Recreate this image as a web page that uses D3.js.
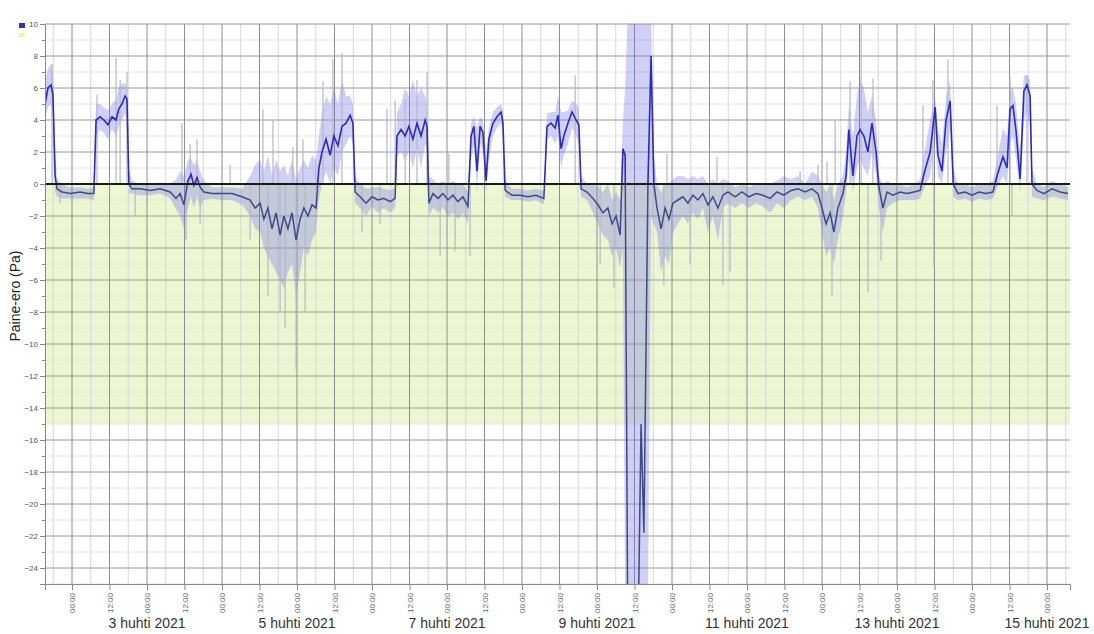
<!DOCTYPE html>
<html>
<head>
<meta charset="utf-8">
<script src="https://cdn.jsdelivr.net/npm/d3@7"></script>
<style>
  body { margin: 0; background: #fff; }
  svg { display: block; font-family: "Liberation Sans", Arial, sans-serif; }
</style>
</head>
<body>
<svg id="chart"></svg>
<script>
// Hours from 2 April 2021 00:00 (UTC) for each reading
const hours = [
  -8.6, -7.7, -6.7, -6.1, -5.4, -4.8, -3.2, -0.6, 2.6, 5.1, 7.0,
  7.7, 9.0, 10.2, 11.5, 12.8, 14.1, 15.0, 16.0, 17.0, 17.6,
  18.2, 19.2, 21.8, 25.0, 28.2, 31.4, 33.3, 34.6, 35.8, 37.1, 38.1, 39.0, 40.0, 41.0, 42.2, 44.8, 48.0, 51.2, 54.4,
  57.0, 58.6, 60.2, 61.4, 62.7, 64.0, 65.3, 66.6, 67.8, 69.1, 70.4, 71.7, 73.0, 74.2, 75.5, 76.8, 78.1,
  79.0, 80.0, 81.3, 82.6, 83.8, 85.1, 86.4, 87.7, 89.0, 89.9,
  90.6, 92.2, 94.1, 96.0, 97.9, 99.8, 101.8, 103.4,
  104.0, 105.3, 106.6, 107.8, 109.1, 110.4, 111.7, 113.0, 113.6,
  114.2, 115.5, 117.1, 118.7, 120.3, 121.9, 123.5, 125.1, 126.7,
  127.7, 128.6, 129.6, 130.6, 131.5, 132.5, 133.4, 134.7, 136.0, 137.3, 137.9,
  138.6, 140.8, 143.4, 145.9, 148.5, 151.0,
  152.0, 153.3, 154.6, 155.5, 156.5, 157.4, 158.7, 160.0, 161.3, 162.2,
  162.9, 164.8, 166.7, 168.3, 169.9, 171.5, 172.8, 174.1, 175.4,
  176.3, 177.0, 177.8, 181.3, 182.1, 183.0, 184.3, 185.3, 186.2,
  187.2, 188.5, 189.8, 191.0, 192.3, 193.9, 195.5, 197.1, 198.7, 200.3, 201.9, 203.5, 205.1, 206.7, 208.3, 209.9,
  212.2, 214.4, 216.6, 218.9, 221.1, 223.4, 225.6, 227.8, 230.1, 232.3, 234.6, 236.8, 238.7, 240.0, 241.3, 242.6, 243.8, 245.1, 246.7,
  247.7, 248.6, 249.9, 251.2, 252.2, 253.4, 254.7, 256.0, 257.3,
  258.2, 259.5, 260.8, 262.7, 265.0, 267.2, 269.4, 271.4,
  272.6, 274.6, 276.2, 277.1, 278.4, 279.7, 281.0,
  282.0, 283.5, 285.8, 288.0, 290.2, 292.5, 294.7,
  296.0, 297.9, 299.2, 300.2, 301.1, 302.1, 303.4, 304.6, 305.6, 306.6,
  307.2, 308.8, 311.0, 313.6, 316.2, 318.7
];

// Mean pressure difference (Pa)
const meanPa = [
  5.0, 6.0, 6.2, 5.6, 0.5, -0.3, -0.5, -0.6, -0.5, -0.6, -0.6,
  4.0, 4.2, 4.0, 3.7, 4.2, 4.0, 4.7, 5.0, 5.5, 5.3,
  0.0, -0.3, -0.3, -0.4, -0.3, -0.5, -0.9, -0.6, -1.3, 0.2, 0.6, -0.1, 0.4, -0.2, -0.5, -0.6, -0.6, -0.6, -0.8,
  -1.0, -1.5, -1.2, -2.2, -1.5, -2.8, -1.8, -3.2, -2.0, -2.8, -1.8, -3.5, -2.2, -1.5, -2.0, -1.3, -1.5,
  1.0, 2.0, 2.8, 1.8, 3.0, 2.4, 3.6, 3.8, 4.3, 3.8,
  -0.5, -0.8, -1.2, -0.8, -1.0, -0.9, -1.1, -0.9,
  3.0, 3.4, 3.0, 3.6, 2.8, 3.8, 3.0, 4.0, 3.6,
  -1.2, -0.6, -0.9, -0.6, -1.0, -0.7, -1.1, -0.8, -1.4,
  3.0, 3.6, 0.8, 3.6, 3.2, 0.2, 2.8, 3.8, 4.2, 4.5, 3.8,
  -0.4, -0.7, -0.7, -0.8, -0.7, -0.9,
  3.6, 3.8, 3.5, 4.3, 2.2, 3.0, 3.8, 4.5, 4.0, 3.7,
  -0.3, -0.5, -0.9, -1.3, -1.8, -1.5, -2.5, -2.0, -3.2,
  2.2, 1.8, -26, -26, -15, -21.8, 0.0, 8.0, 0.0,
  -1.5, -2.8, -1.5, -2.2, -1.2, -1.0, -0.8, -1.2, -0.7, -1.0, -0.6, -1.3, -0.8, -1.5, -0.7, -0.5,
  -0.8, -0.5, -0.8, -0.6, -0.7, -0.9, -0.5, -0.7, -0.4, -0.3, -0.5, -0.3, -0.6, -1.5, -2.5, -1.8, -3.0, -1.5, -0.6,
  0.5, 3.4, 0.5, 3.0, 3.4, 3.0, 2.0, 3.8, 2.0,
  -0.2, -1.5, -0.5, -0.7, -0.5, -0.6, -0.5, -0.4,
  0.6, 2.0, 4.8, 1.8, 0.8, 4.0, 5.2,
  0.0, -0.6, -0.5, -0.7, -0.5, -0.6, -0.5,
  0.5, 1.7, 1.0, 4.7, 4.9, 3.3, 0.3, 5.8, 6.2, 5.5,
  0.0, -0.4, -0.6, -0.3, -0.5, -0.6
];

// Lowest reading in each interval (Pa)
const lowPa = [
  4.0, 4.8, 5.0, 4.5, -0.5, -0.8, -0.9, -0.9, -0.9, -0.9, -1.0,
  3.0, 3.4, 3.2, 2.8, 3.4, 3.0, 3.6, 4.0, 4.4, 4.0,
  -0.6, -0.6, -0.7, -0.7, -0.6, -0.9, -1.6, -2.0, -2.8, -1.5, -0.8, -1.5, -0.8, -1.5, -1.0, -0.9, -1.0, -1.0, -1.3,
  -2.0, -2.8, -3.0, -4.0, -4.5, -5.0, -5.5, -6.0, -6.5, -5.5, -5.0, -7.0, -5.5, -4.0, -4.5, -3.5, -3.0,
  -1.0, 0.0, 0.8, 0.0, 1.0, 0.5, 2.0, 2.5, 3.0, 2.5,
  -1.2, -1.5, -2.0, -1.4, -1.8, -1.5, -1.8, -1.5,
  1.8, 2.0, 1.5, 2.0, 1.0, 2.2, 1.0, 2.5, 2.0,
  -2.0, -1.5, -1.8, -1.5, -2.0, -1.8, -2.2, -1.8, -2.5,
  1.5, 2.5, -0.5, 2.5, 2.0, -0.5, 1.5, 3.0, 3.5, 3.8, 3.0,
  -0.8, -1.0, -1.0, -1.1, -1.0, -1.3,
  2.8, 3.0, 2.5, 3.0, 1.0, 1.8, 2.5, 3.5, 3.0, 2.5,
  -0.8, -1.0, -1.8, -2.5, -3.2, -3.5, -4.5, -4.0, -5.2,
  -4.0, -26, -26, -26, -26, -26, -26, -2.0, -2.5,
  -3.0, -5.5, -4.5, -5.0, -3.0, -2.5, -2.0, -2.5, -1.8, -2.2, -1.5, -3.0, -2.0, -3.5, -1.5, -1.2,
  -1.5, -1.2, -1.5, -1.2, -1.4, -1.8, -1.2, -1.5, -1.0, -0.8, -1.0, -0.8, -1.5, -3.0, -4.5, -4.0, -5.0, -3.5, -2.0,
  -0.5, 1.5, -0.5, 1.0, 1.5, 1.0, 0.5, 2.0, 0.5,
  -1.5, -3.0, -1.5, -1.2, -1.0, -1.0, -1.0, -0.9,
  -0.3, 0.5, 3.0, 0.5, 0.0, 2.0, 3.5,
  -0.8, -1.0, -0.9, -1.1, -0.9, -1.0, -0.9,
  -0.3, 0.5, 0.0, 2.5, 3.0, 1.5, -0.5, 4.0, 4.5, 3.5,
  -0.8, -0.9, -1.0, -0.8, -0.9, -1.0
];

// Highest reading in each interval (Pa)
const highPa = [
  6.5, 7.2, 7.5, 7.0, 2.0, 0.3, 0.0, -0.2, -0.2, -0.3, -0.2,
  5.0, 5.0, 4.8, 4.6, 5.0, 5.3, 6.0, 6.3, 6.3, 6.0,
  1.0, 0.2, 0.0, 0.0, 0.1, 0.0, 0.3, 0.8, 0.5, 1.5, 1.6, 1.2, 1.4, 0.8, 0.2, -0.2, -0.2, -0.2, -0.3,
  0.5, 1.2, 1.5, 0.8, 1.8, 0.5, 1.5, 0.8, 1.2, 0.5, 1.5, 0.3, 1.0, 1.5, 1.0, 1.8, 1.5,
  3.0, 4.5, 5.5, 5.0, 6.0, 5.0, 6.5, 5.5, 5.5, 5.0,
  0.5, 0.0, -0.3, -0.2, -0.2, -0.3, -0.4, -0.2,
  4.5, 5.0, 6.0, 5.5, 6.5, 5.5, 6.0, 5.5, 5.0,
  0.5, 0.3, 0.0, 0.2, 0.0, 0.2, 0.0, 0.0, -0.5,
  3.8, 4.2, 3.5, 4.2, 4.0, 2.0, 3.5, 4.5, 4.8, 5.0, 4.6,
  0.2, -0.3, -0.3, -0.4, -0.3, -0.4,
  4.4, 4.5, 4.5, 5.5, 4.5, 4.5, 4.6, 5.2, 5.0, 4.8,
  0.5, 0.0, 0.0, -0.2, -0.5, 0.0, -1.0, -0.5, -1.0,
  4.0, 6.0, 10.5, 10.5, 10.5, 10.5, 10.5, 10.5, 2.0,
  0.0, -0.5, 0.0, 0.0, 0.3, 0.5, 0.5, 0.3, 0.5, 0.3, 0.5, 0.0, 0.3, 0.0, 0.3, 0.2,
  -0.2, 0.0, -0.2, 0.0, -0.1, 0.0, 0.2, 0.5, 0.3, 0.5, 0.0, 0.8, 0.5, 0.0, -0.5, 0.0, -1.0, 0.0, 0.5,
  2.0, 5.0, 3.0, 5.5, 6.6, 6.0, 4.5, 5.5, 4.0,
  0.5, 0.0, 0.2, 0.0, 0.0, -0.2, 0.0, 0.3,
  1.8, 4.0, 5.5, 3.5, 2.5, 5.5, 6.5,
  1.0, 0.0, 0.0, -0.2, 0.0, 0.0, 0.2,
  1.5, 3.5, 3.0, 6.0, 6.0, 5.0, 2.0, 6.8, 6.8, 6.5,
  1.0, 0.0, -0.2, 0.2, 0.0, -0.2
];

// Single extreme readings (thin grey spikes)
const spikeHours = [
  -6.4, -3.8, 8.0, 14.1, 15.4, 17.6, 20.2, 35.2, 36.5, 37.8, 40.0, 41.0, 50.6,
  57.0, 61.1, 62.7, 64.3, 66.6, 68.2, 70.7, 71.7, 73.9, 74.6, 80.3, 83.5, 86.4,
  92.8, 98.6, 100.8, 103.4, 106.6, 110.4, 113.6, 117.8, 120.6, 122.6, 127.4,
  161.0, 169.0, 173.4, 189.4, 190.4, 197.8, 206.4, 208.3, 210.6,
  233.0, 238.7, 241.6, 243.2, 244.2, 249.0, 252.5, 254.7, 256.3, 258.9,
  272.3, 275.5, 275.8, 280.3, 296.0, 300.2, 300.8, 305.6
];
const spikeValues = [
  7.5, -1.2, 5.6, 7.9, 6.5, 7.0, -2.0, 3.8, -3.5, 2.5, 2.8, -2.5, 1.2,
  -3.5, 4.7, -7.0, 4.0, -8.0, -9.0, 2.3, -11.6, 2.8, -8.0, 6.4, 7.8, 8.2,
  -3.0, -2.5, 4.7, 5.2, 5.3, 6.5, 7.0, -4.5, 1.9, -4.2, -4.5,
  6.8, -5.0, -6.5, -6.3, 1.9, -5.0, 1.7, -6.3, -5.5,
  0.8, 1.2, 1.4, -7.0, 4.0, 6.4, 10.5, -6.8, 6.6, -4.8,
  4.9, 6.5, -5.2, 7.8, 4.9, 6.6, -2.0, 6.8
];

const targetRange = [-15, 0];            // recommended zone (green)
const monthNames = ["tammi", "helmi", "maalis", "huhti", "touko", "kesä",
                    "heinä", "elo", "syys", "loka", "marras", "joulu"];

// Set dimensions and margins
const W = 1094, H = 634;
const margin = { top: 24, right: 24, bottom: 50, left: 45 };
const width = W - margin.left - margin.right;
const height = H - margin.top - margin.bottom;

const base = Date.UTC(2021, 3, 2);
const hr = h => new Date(base + h * 3600e3);

const svg = d3.select("#chart").attr("width", W).attr("height", H);
const g = svg.append("g").attr("transform", `translate(${margin.left},${margin.top})`);

const x = d3.scaleUtc().domain([hr(-8.64), hr(319.36)]).range([0, width]);
const y = d3.scaleLinear().domain([-25, 10]).range([height, 0]);

// Clip paths
const defs = svg.append("defs");
defs.append("clipPath").attr("id", "plot")
  .append("rect").attr("width", width).attr("height", height);
defs.append("clipPath").attr("id", "above")
  .append("rect").attr("width", width).attr("height", y(0));
defs.append("clipPath").attr("id", "below")
  .append("rect").attr("y", y(0)).attr("width", width).attr("height", height - y(0));

// Green target zone
g.append("rect")
  .attr("x", 0).attr("width", width)
  .attr("y", y(targetRange[1]))
  .attr("height", y(targetRange[0]) - y(targetRange[1]))
  .attr("fill", "#ecf7d2");

// Grid lines
const grid = g.append("g");
grid.selectAll(".hmin").data(d3.range(-25, 10, 1).filter(v => v % 2 !== 0))
  .enter().append("line")
  .attr("x1", 0).attr("x2", width)
  .attr("y1", d => y(d)).attr("y2", d => y(d))
  .attr("stroke", "#e4e4e4");
grid.selectAll(".vmin").data(d3.range(-6, 319, 12))
  .enter().append("line")
  .attr("x1", d => x(hr(d))).attr("x2", d => x(hr(d)))
  .attr("y1", 0).attr("y2", height)
  .attr("stroke", "#d6d6d6");
grid.selectAll(".hmaj").data(d3.range(-24, 11, 2))
  .enter().append("line")
  .attr("x1", 0).attr("x2", width)
  .attr("y1", d => y(d)).attr("y2", d => y(d))
  .attr("stroke", "#9a9a9a");
grid.selectAll(".vmaj").data(d3.range(0, 313, 12))
  .enter().append("line")
  .attr("x1", d => x(hr(d))).attr("x2", d => x(hr(d)))
  .attr("y1", 0).attr("y2", height)
  .attr("stroke", "#8e8e8e");

const data = hours.map((h, i) => ({ t: hr(h), mean: meanPa[i], lo: lowPa[i], hi: highPa[i] }));

const plot = g.append("g").attr("clip-path", "url(#plot)");

// Min-max band
plot.append("path")
  .datum(data)
  .attr("fill", "#7474e4")
  .attr("fill-opacity", 0.34)
  .attr("d", d3.area().x(d => x(d.t)).y0(d => y(d.lo)).y1(d => y(d.hi)));

// Extreme spikes
plot.selectAll(".spike")
  .data(spikeHours.map((h, i) => ({ t: hr(h), v: spikeValues[i] })))
  .enter().append("line")
  .attr("x1", d => x(d.t)).attr("x2", d => x(d.t))
  .attr("y1", y(0)).attr("y2", d => y(d.v))
  .attr("stroke", "#b4b8c4")
  .attr("stroke-width", 1.2);

// Mean line, coloured by sign
const line = d3.line().x(d => x(d.t)).y(d => y(d.mean));
const lineWrap = plot.append("g");
lineWrap.append("g").attr("clip-path", "url(#above)")
  .append("path").datum(data)
  .attr("fill", "none").attr("stroke", "#2b2bbd").attr("stroke-width", 1.6)
  .attr("d", line);
lineWrap.append("g").attr("clip-path", "url(#below)")
  .append("path").datum(data)
  .attr("fill", "none").attr("stroke", "#3d4a86").attr("stroke-width", 1.5)
  .attr("d", line);

// Zero line
g.append("line")
  .attr("x1", 0).attr("x2", width)
  .attr("y1", y(0)).attr("y2", y(0))
  .attr("stroke", "#1a1a1a").attr("stroke-width", 2);

// Y axis (major + minor ticks)
g.append("g")
  .call(d3.axisLeft(y).tickValues(d3.range(-25, 11, 1)).tickSize(3).tickFormat(""))
  .call(s => s.select(".domain").remove())
  .selectAll("line").attr("stroke", "#888");
const yAxis = g.append("g")
  .call(d3.axisLeft(y).tickValues(d3.range(-24, 11, 2)).tickSize(5).tickPadding(2));
yAxis.select(".domain").attr("stroke", "#888");
yAxis.selectAll("line").attr("stroke", "#888");
yAxis.selectAll("text").attr("fill", "#555").style("font-size", "8px");

// X axis
const xAxis = g.append("g")
  .attr("transform", `translate(0,${height})`)
  .call(d3.axisBottom(x).tickValues(d3.range(0, 313, 12).map(hr))
    .tickSize(6).tickFormat(d3.utcFormat("%H:%M")));
xAxis.select(".domain").attr("stroke", "#888");
xAxis.selectAll("line").attr("stroke", "#888");
xAxis.selectAll("text")
  .attr("transform", "rotate(-90)")
  .attr("x", -9).attr("y", 0).attr("dy", "0.32em")
  .style("text-anchor", "end")
  .style("font-size", "8px")
  .attr("fill", "#666");

// Date labels
g.selectAll(".day")
  .data(d3.range(24, 313, 48).map(hr))
  .enter().append("text")
  .attr("x", d => x(d))
  .attr("y", height + 44)
  .attr("text-anchor", "middle")
  .style("font-size", "14px")
  .attr("fill", "#333")
  .text(d => `${d.getUTCDate()} ${monthNames[d.getUTCMonth()]} ${d.getUTCFullYear()}`);

// Y-axis label
svg.append("text")
  .attr("transform", `translate(20,${margin.top + y(-7)}) rotate(-90)`)
  .attr("text-anchor", "middle")
  .style("font-size", "14px")
  .attr("fill", "#222")
  .text("Paine-ero (Pa)");

// Legend marks
svg.append("rect").attr("x", 19).attr("y", 23).attr("width", 6).attr("height", 5).attr("fill", "#3434a8");
svg.append("rect").attr("x", 19).attr("y", 33).attr("width", 6).attr("height", 4).attr("fill", "#f2efb4");
</script>
</body>
</html>
